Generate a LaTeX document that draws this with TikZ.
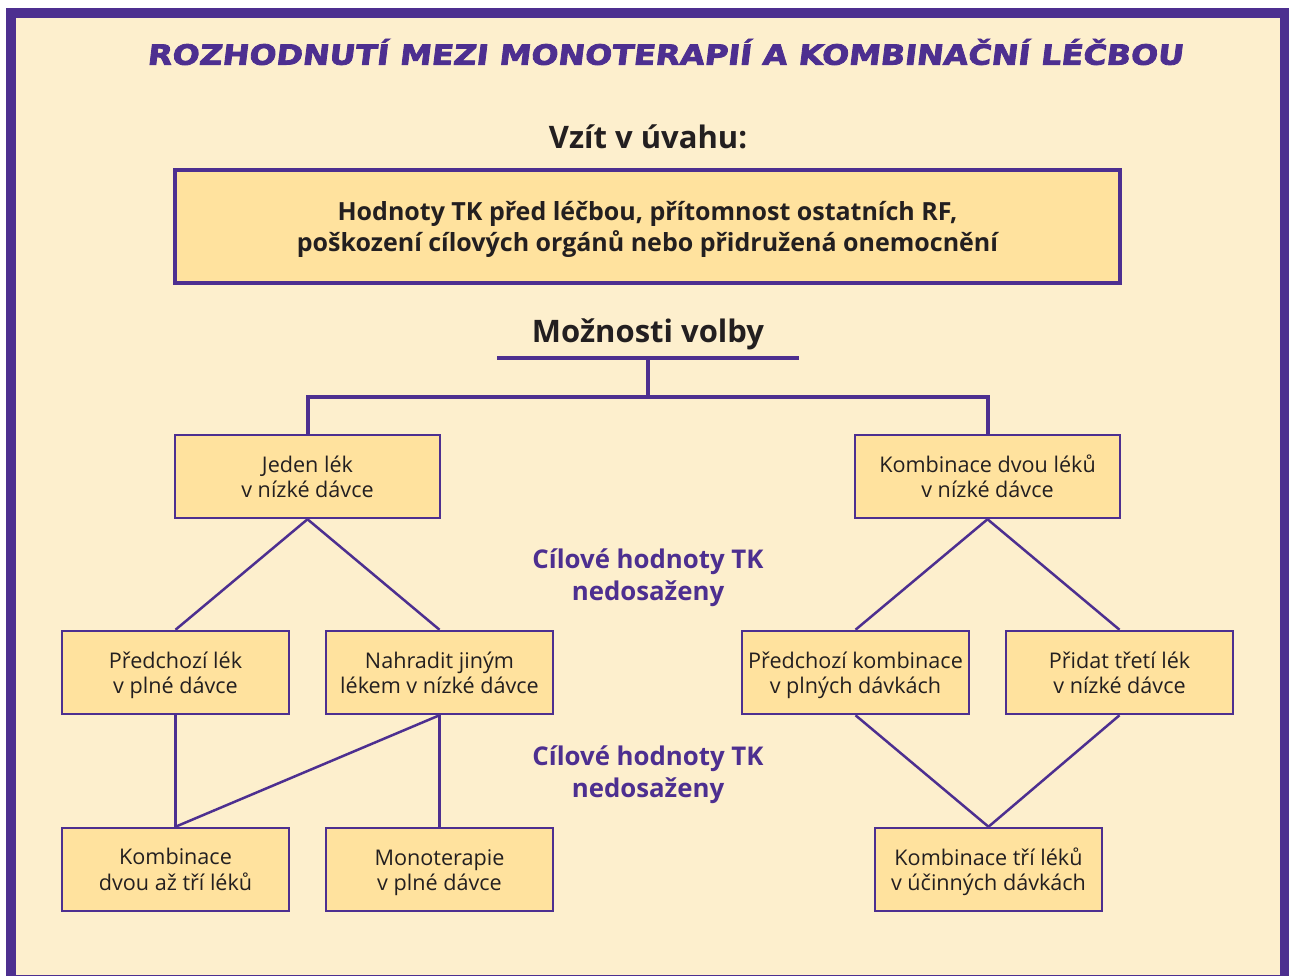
\documentclass[tikz,border=0pt]{standalone}
\usepackage{fontspec}
\setmainfont{Open Sans}
\newfontfamily\titlefont{DejaVu Sans}[FakeBold=3, FakeSlant=0.12, FakeStretch=1.15]
\usepackage{graphicx}
\newcommand\topstrut{\rule[-7.5pt]{0pt}{31pt}}
\newcommand\bigtopstrut{\rule[-9.3pt]{0pt}{37pt}}
\definecolor{purp}{HTML}{4D2F90}
\definecolor{cream}{HTML}{FDEFCD}
\definecolor{boxfill}{HTML}{FFE29E}
\definecolor{ink}{HTML}{231F20}
\tikzset{
  opt/.style={draw=purp, line width=2.5pt, fill=boxfill, minimum width=227pt, minimum height=83pt,
    align=center, font=\fontsize{21.6}{25}\selectfont, text=ink, inner sep=0pt},
  wide/.style={opt, minimum width=265pt},
  conn/.style={draw=purp, line width=2.5pt},
  trunk/.style={draw=purp, line width=4pt},
  note/.style={text=purp, align=center, font=\fontsize{25.8}{32}\selectfont\bfseries},
  head/.style={text=ink, font=\fontsize{31}{34}\selectfont\bfseries}
}
\begin{document}
\begin{tikzpicture}[x=1pt,y=-1pt]
\useasboundingbox (0,0) rectangle (1289,976);
\fill[white] (0,0) rectangle (1289,976);
\draw[draw=purp, fill=cream, line width=10pt] (11,13.5) rectangle (1285,980);
\node[text=purp] (title) at (665,52) {\resizebox{1036pt}{!}{\titlefont\bfseries\fontsize{30}{34}\selectfont ROZHODNUTÍ MEZI MONOTERAPIÍ A KOMBINAČNÍ LÉČBOU}};
\node[head] (consider) at (648,137) {Vzít v úvahu:};
\node[draw=purp, line width=4pt, fill=boxfill, minimum width=945pt, minimum height=113pt, align=center,
  text=ink, font=\fontsize{25}{31}\selectfont\bfseries] (factors) at (647.5,226.5)
  {\bigtopstrut Hodnoty TK před léčbou, přítomnost ostatních RF,\\\strut poškození cílových orgánů nebo přidružená onemocnění};
\node[head] (options) at (648,334) {Možnosti volby};
\coordinate (barL) at (497,358);
\coordinate (barR) at (799,358);
\coordinate (barM) at (648,358);
\coordinate (split) at (648,397);
\node[wide] (one) at (307.5,476.5) {\topstrut Jeden lék\\\strut v nízké dávce};
\node[wide] (two) at (987.5,476.5) {\topstrut Kombinace dvou léků\\\strut v nízké dávce};
\node[opt] (prev) at (175.5,672.5) {\topstrut Předchozí lék\\\strut v plné dávce};
\node[opt] (repl) at (439.5,672.5) {\topstrut Nahradit jiným\\\strut lékem v nízké dávce};
\node[opt] (prevc) at (855.5,672.5) {\topstrut Předchozí kombinace\\\strut v plných dávkách};
\node[opt] (third) at (1119.5,672.5) {\topstrut Přidat třetí lék\\\strut v nízké dávce};
\node[opt] (comb) at (175.5,869.5) {\topstrut Kombinace\\\strut dvou až tří léků};
\node[opt] (mono) at (439.5,869.5) {\topstrut Monoterapie\\\strut v plné dávce};
\node[opt] (three) at (988.5,869.5) {\topstrut Kombinace tří léků\\\strut v účinných dávkách};
\node[note] (n1) at (648,578) {Cílové hodnoty TK\\nedosaženy};
\node[note] (n2) at (648,775) {Cílové hodnoty TK\\nedosaženy};
\draw[trunk] (barL) -- (barR);
\draw[trunk] (barM) -- (split);
\draw[trunk] (one.north) -- (one.north |- split) -- (two.north |- split) -- (two.north);
\draw[conn] (one.south) -- (prev.north);
\draw[conn] (one.south) -- (repl.north);
\draw[conn] (two.south) -- (prevc.north);
\draw[conn] (two.south) -- (third.north);
\draw[conn] (prev.south) -- (comb.north);
\draw[conn] (repl.south) -- (comb.north);
\draw[conn] (repl.south) -- (mono.north);
\draw[conn] (prevc.south) -- (three.north);
\draw[conn] (third.south) -- (three.north);
\end{tikzpicture}
\end{document}
